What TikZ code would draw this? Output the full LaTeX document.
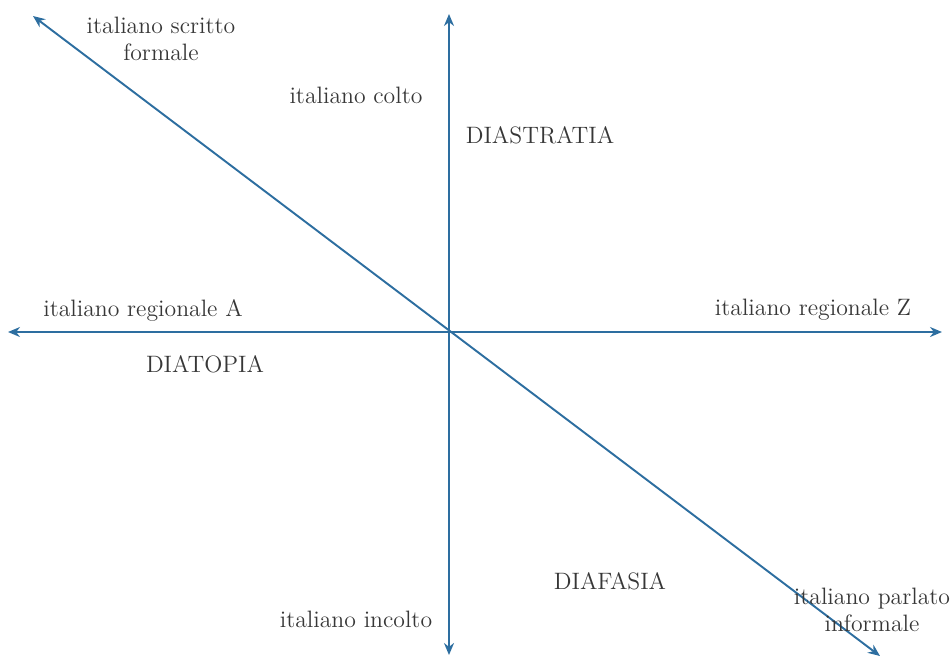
\documentclass[tikz,border=0pt]{standalone}
\usetikzlibrary{arrows.meta}
\definecolor{axisblue}{RGB}{45,110,160}
\definecolor{labelgray}{RGB}{55,55,55}
\begin{document}
\begin{tikzpicture}[x=0.02cm, y=-0.02cm,
  axis/.style={line width=1.1pt, draw=axisblue, {Stealth[length=2.4mm,width=2mm]}-{Stealth[length=2.4mm,width=2mm]}},
  lbl/.style={font=\fontsize{13.5}{15}\selectfont, text=labelgray, inner sep=0pt, align=center}]
  \useasboundingbox (0,0) rectangle (952,657);
  % the three axes cross in O
  \coordinate (O)  at (449,332);
  \coordinate (N)  at (449,14);
  \coordinate (S)  at (449,655);
  \coordinate (W)  at (8,332);
  \coordinate (E)  at (942,332);
  \coordinate (NW) at (33,16);
  \coordinate (SE) at (880,656);
  \draw[axis] (N)--(S);
  \draw[axis] (W)--(E);
  \draw[axis] (NW)--(SE);
  \node[lbl] (scritto)  at (161,39)  {italiano scritto\\formale};
  \node[lbl] (colto)    at (356,95)  {italiano colto};
  \node[lbl] (strat)    at (540,135) {DIASTRATIA};
  \node[lbl] (regA)     at (143,310) {italiano regionale A};
  \node[lbl] (regZ)     at (813,310) {italiano regionale Z};
  \node[lbl] (topia)    at (205,364) {DIATOPIA};
  \node[lbl] (fasia)    at (610,581) {DIAFASIA};
  \node[lbl] (incolto)  at (356,619) {italiano incolto};
  \node[lbl] (parlato)  at (872,610) {italiano parlato\\informale};
\end{tikzpicture}
\end{document}
